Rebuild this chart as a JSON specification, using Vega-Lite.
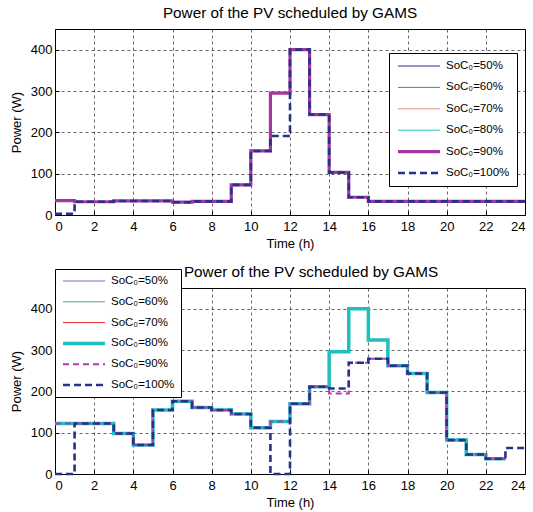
{
  "$schema": "https://vega.github.io/schema/vega-lite/v6.json",
  "padding": {"left": 9, "top": 5, "right": 5, "bottom": 5},
  "spacing": 13,
  "datasets": {
    "top": [
      {"t": 0, "p50": 35, "p60": 35, "p70": 35, "p80": 35, "p90": 35, "p100": 3},
      {"t": 1, "p50": 32, "p60": 32, "p70": 32, "p80": 32, "p90": 32, "p100": 32},
      {"t": 2, "p50": 32, "p60": 32, "p70": 32, "p80": 32, "p90": 32, "p100": 32},
      {"t": 3, "p50": 34, "p60": 34, "p70": 34, "p80": 34, "p90": 34, "p100": 34},
      {"t": 4, "p50": 34, "p60": 34, "p70": 34, "p80": 34, "p90": 34, "p100": 34},
      {"t": 5, "p50": 34, "p60": 34, "p70": 34, "p80": 34, "p90": 34, "p100": 34},
      {"t": 6, "p50": 31, "p60": 31, "p70": 31, "p80": 31, "p90": 31, "p100": 31},
      {"t": 7, "p50": 33, "p60": 33, "p70": 33, "p80": 33, "p90": 33, "p100": 33},
      {"t": 8, "p50": 33, "p60": 33, "p70": 33, "p80": 33, "p90": 33, "p100": 33},
      {"t": 9, "p50": 73, "p60": 73, "p70": 73, "p80": 73, "p90": 73, "p100": 73},
      {"t": 10, "p50": 155, "p60": 155, "p70": 155, "p80": 155, "p90": 155, "p100": 155},
      {"t": 11, "p50": 295, "p60": 295, "p70": 295, "p80": 295, "p90": 295, "p100": 191},
      {"t": 12, "p50": 400, "p60": 400, "p70": 400, "p80": 400, "p90": 400, "p100": 400},
      {"t": 13, "p50": 243, "p60": 243, "p70": 243, "p80": 243, "p90": 243, "p100": 243},
      {"t": 14, "p50": 103, "p60": 103, "p70": 103, "p80": 103, "p90": 103, "p100": 103},
      {"t": 15, "p50": 43, "p60": 43, "p70": 43, "p80": 43, "p90": 43, "p100": 43},
      {"t": 16, "p50": 33, "p60": 33, "p70": 33, "p80": 33, "p90": 33, "p100": 33},
      {"t": 17, "p50": 33, "p60": 33, "p70": 33, "p80": 33, "p90": 33, "p100": 33},
      {"t": 18, "p50": 33, "p60": 33, "p70": 33, "p80": 33, "p90": 33, "p100": 33},
      {"t": 19, "p50": 33, "p60": 33, "p70": 33, "p80": 33, "p90": 33, "p100": 33},
      {"t": 20, "p50": 33, "p60": 33, "p70": 33, "p80": 33, "p90": 33, "p100": 33},
      {"t": 21, "p50": 33, "p60": 33, "p70": 33, "p80": 33, "p90": 33, "p100": 33},
      {"t": 22, "p50": 33, "p60": 33, "p70": 33, "p80": 33, "p90": 33, "p100": 33},
      {"t": 23, "p50": 33, "p60": 33, "p70": 33, "p80": 33, "p90": 33, "p100": 33},
      {"t": 24, "p50": 33, "p60": 33, "p70": 33, "p80": 33, "p90": 33, "p100": 33}
    ],
    "bottom": [
      {"t": 0, "p50": 122, "p60": 122, "p70": 122, "p80": 122, "p90": 122, "p100": 0},
      {"t": 1, "p50": 122, "p60": 122, "p70": 122, "p80": 122, "p90": 122, "p100": 122},
      {"t": 2, "p50": 122, "p60": 122, "p70": 122, "p80": 122, "p90": 122, "p100": 122},
      {"t": 3, "p50": 98, "p60": 98, "p70": 98, "p80": 98, "p90": 98, "p100": 98},
      {"t": 4, "p50": 70, "p60": 70, "p70": 70, "p80": 70, "p90": 70, "p100": 70},
      {"t": 5, "p50": 155, "p60": 155, "p70": 155, "p80": 155, "p90": 155, "p100": 155},
      {"t": 6, "p50": 176, "p60": 176, "p70": 176, "p80": 176, "p90": 176, "p100": 176},
      {"t": 7, "p50": 161, "p60": 161, "p70": 161, "p80": 161, "p90": 161, "p100": 161},
      {"t": 8, "p50": 155, "p60": 155, "p70": 155, "p80": 155, "p90": 155, "p100": 155},
      {"t": 9, "p50": 145, "p60": 145, "p70": 145, "p80": 145, "p90": 145, "p100": 145},
      {"t": 10, "p50": 112, "p60": 112, "p70": 112, "p80": 112, "p90": 112, "p100": 112},
      {"t": 11, "p50": 127, "p60": 127, "p70": 127, "p80": 127, "p90": 127, "p100": 0},
      {"t": 12, "p50": 170, "p60": 170, "p70": 170, "p80": 170, "p90": 170, "p100": 170},
      {"t": 13, "p50": 211, "p60": 211, "p70": 211, "p80": 211, "p90": 211, "p100": 211},
      {"t": 14, "p50": 296, "p60": 296, "p70": 296, "p80": 296, "p90": 195, "p100": 207},
      {"t": 15, "p50": 400, "p60": 400, "p70": 400, "p80": 400, "p90": 269, "p100": 269},
      {"t": 16, "p50": 324, "p60": 324, "p70": 324, "p80": 324, "p90": 279, "p100": 279},
      {"t": 17, "p50": 262, "p60": 262, "p70": 262, "p80": 262, "p90": 262, "p100": 262},
      {"t": 18, "p50": 243, "p60": 243, "p70": 243, "p80": 243, "p90": 243, "p100": 243},
      {"t": 19, "p50": 197, "p60": 197, "p70": 197, "p80": 197, "p90": 197, "p100": 197},
      {"t": 20, "p50": 82, "p60": 82, "p70": 82, "p80": 82, "p90": 82, "p100": 82},
      {"t": 21, "p50": 47, "p60": 47, "p70": 47, "p80": 47, "p90": 47, "p100": 47},
      {"t": 22, "p50": 37, "p60": 37, "p70": 37, "p80": 37, "p90": 37, "p100": 37},
      {"t": 23, "p50": 37, "p60": 37, "p70": 37, "p80": 37, "p90": 37, "p100": 63},
      {"t": 24, "p100": 63}
    ]
  },
  "config": {
    "font": "Liberation Sans",
    "view": {"stroke": "#000000", "strokeWidth": 1},
    "axis": {
      "grid": true, "gridColor": "#000000", "gridDash": [3, 3], "gridWidth": 0.6, "gridOpacity": 1,
      "domain": false, "ticks": true, "tickColor": "#000000", "tickSize": -4,
      "labelFontSize": 13, "labelColor": "#000000", "labelPadding": 9,
      "titleFontSize": 13, "titleFontWeight": "normal", "titleColor": "#000000"
    },
    "axisY": {"labelPadding": 7, "titlePadding": 7},
    "title": {"fontSize": 15.3, "fontWeight": "normal", "color": "#000000", "offset": 8},
    "legend": {
      "orient": "none", "title": null, "strokeColor": "#000000", "fillColor": "#ffffff",
      "padding": 7, "labelFontSize": 11.5, "labelColor": "#000000", "symbolType": "stroke",
      "symbolSize": 1764, "clipHeight": 12, "rowPadding": 9.4, "labelOffset": 4, "symbolOpacity": 1
    }
  },
  "resolve": {
    "scale": {"color": "independent", "strokeWidth": "independent", "strokeDash": "independent"},
    "legend": {"color": "independent", "strokeWidth": "independent", "strokeDash": "independent"}
  },
  "vconcat": [
    {
      "width": 470, "height": 186,
      "title": {"text": "Power of the PV scheduled by GAMS"},
      "data": {"name": "top"},
      "transform": [
        {"fold": ["p50", "p60", "p70", "p80", "p90", "p100"], "as": ["series", "power"]},
        {"filter": "isValid(datum.power)"}
      ],
      "mark": {"type": "line", "interpolate": "step-after"},
      "encoding": {
        "x": {"field": "t", "type": "quantitative", "scale": {"domain": [0, 24], "nice": false},
              "axis": {"values": [0, 2, 4, 6, 8, 10, 12, 14, 16, 18, 20, 22, 24], "title": "Time (h)"}},
        "y": {"field": "power", "type": "quantitative", "scale": {"domain": [0, 450], "nice": false},
              "axis": {"values": [0, 100, 200, 300, 400], "title": "Power (W)"}},
        "color": {"field": "series", "type": "ordinal",
                  "scale": {"domain": ["p50", "p60", "p70", "p80", "p90", "p100"],
                            "range": ["#27348b", "#2e9a5a", "#f08a8a", "#22c3c3", "#a3379e", "#263288"]},
                  "legend": {"legendX": 334, "legendY": 24, "labelExpr": "'SoC₀=' + slice(datum.label, 1) + '%'"}},
        "strokeWidth": {"field": "series", "type": "ordinal",
                        "scale": {"type": "ordinal", "domain": ["p50", "p60", "p70", "p80", "p90", "p100"], "range": [1, 1, 1, 1, 3.2, 2.6]},
                        "legend": {"legendX": 334, "legendY": 24, "labelExpr": "'SoC₀=' + slice(datum.label, 1) + '%'"}},
        "strokeDash": {"field": "series", "type": "ordinal",
                       "scale": {"domain": ["p50", "p60", "p70", "p80", "p90", "p100"],
                                 "range": [[1, 0], [1, 0], [1, 0], [1, 0], [1, 0], [7, 4]]},
                       "legend": {"legendX": 334, "legendY": 24, "labelExpr": "'SoC₀=' + slice(datum.label, 1) + '%'"}}
      }
    },
    {
      "width": 470, "height": 186,
      "title": {"text": "Power of the PV scheduled by GAMS", "dx": 21, "offset": -12},
      "data": {"name": "bottom"},
      "transform": [
        {"fold": ["p50", "p60", "p70", "p80", "p90", "p100"], "as": ["series", "power"]},
        {"filter": "isValid(datum.power)"}
      ],
      "mark": {"type": "line", "interpolate": "step-after"},
      "encoding": {
        "x": {"field": "t", "type": "quantitative", "scale": {"domain": [0, 24], "nice": false},
              "axis": {"values": [0, 2, 4, 6, 8, 10, 12, 14, 16, 18, 20, 22, 24], "title": "Time (h)"}},
        "y": {"field": "power", "type": "quantitative", "scale": {"domain": [0, 450], "nice": false},
              "axis": {"values": [0, 100, 200, 300, 400], "title": "Power (W)"}},
        "color": {"field": "series", "type": "ordinal",
                  "scale": {"domain": ["p50", "p60", "p70", "p80", "p90", "p100"],
                            "range": ["#6677cc", "#5aa870", "#e8262a", "#20bfbf", "#b03ab0", "#263288"]},
                  "legend": {"legendX": 0, "legendY": -19, "padding": 6, "rowPadding": 8.8, "labelExpr": "'SoC₀=' + slice(datum.label, 1) + '%'"}},
        "strokeWidth": {"field": "series", "type": "ordinal",
                        "scale": {"type": "ordinal", "domain": ["p50", "p60", "p70", "p80", "p90", "p100"], "range": [1, 1, 1, 3.5, 2, 2.6]},
                        "legend": {"legendX": 0, "legendY": -19, "padding": 6, "rowPadding": 8.8, "labelExpr": "'SoC₀=' + slice(datum.label, 1) + '%'"}},
        "strokeDash": {"field": "series", "type": "ordinal",
                       "scale": {"domain": ["p50", "p60", "p70", "p80", "p90", "p100"],
                                 "range": [[1, 0], [1, 0], [1, 0], [1, 0], [6, 4], [7, 4]]},
                       "legend": {"legendX": 0, "legendY": -19, "padding": 6, "rowPadding": 8.8, "labelExpr": "'SoC₀=' + slice(datum.label, 1) + '%'"}}
      }
    }
  ]
}
